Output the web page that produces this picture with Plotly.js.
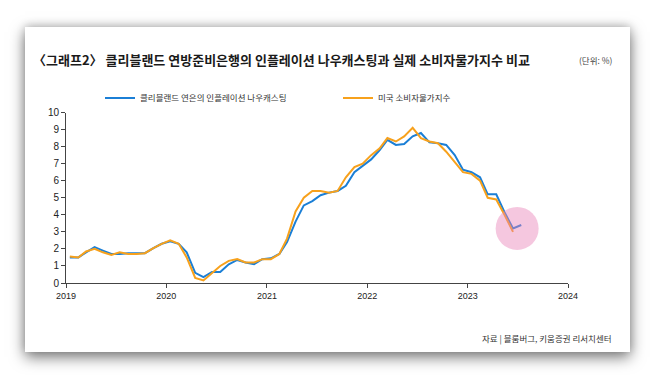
<!DOCTYPE html>
<html>
<head>
<meta charset="utf-8">
<script src="https://cdn.plot.ly/plotly-3.0.1.min.js"></script>
<style>
  html, body { margin:0; padding:0; background:#ffffff; width:650px; height:375px; overflow:hidden; }
  #card { position:absolute; left:25px; top:27px; width:605px; height:325px; background:#ffffff;
          box-shadow: 0 5px 14px rgba(0,0,0,0.55), 0 -2px 8px rgba(0,0,0,0.15); }
  #chart { position:absolute; left:0; top:0; width:650px; height:375px; }
</style>
</head>
<body>
<div id="card"></div>
<div id="chart"></div>
<script>
// ---- data ----
const startYear = 2019;
const seriesNames = ['클리블랜드 연은의 인플레이션 나우캐스팅', '미국 소비자물가지수'];
const nowcast = [
  1.5, 1.5, 1.8, 2.1, 1.9, 1.7, 1.7, 1.75, 1.75, 1.75, 2.05, 2.3,
  2.45, 2.3, 1.8, 0.6, 0.35, 0.65, 0.65, 1.1, 1.35, 1.2, 1.1, 1.4,
  1.45, 1.7, 2.4, 3.6, 4.55, 4.8, 5.15, 5.3, 5.4, 5.7, 6.5, 6.85,
  7.25, 7.8, 8.4, 8.1, 8.15, 8.6, 8.8, 8.25, 8.2, 8.1, 7.5, 6.65,
  6.5, 6.2, 5.2, 5.2, 4.15, 3.2, 3.4
];
const cpi = [
  1.55, 1.5, 1.85, 2.0, 1.8, 1.65, 1.8, 1.7, 1.7, 1.75, 2.05, 2.3,
  2.5, 2.3, 1.5, 0.3, 0.15, 0.6, 1.0, 1.3, 1.4, 1.2, 1.2, 1.4,
  1.4, 1.7, 2.6, 4.2, 5.0, 5.4, 5.4, 5.3, 5.4, 6.2, 6.8, 7.0,
  7.5, 7.9, 8.5, 8.3, 8.6, 9.1, 8.5, 8.3, 8.2, 7.7, 7.1, 6.5,
  6.4, 6.0, 5.0, 4.9, 4.0, 3.0
];
const xTickVals = ['2019-01-01','2020-01-01','2021-01-01','2022-01-01','2023-01-01','2024-01-01'];
const xTickText = ['2019','2020','2021','2022','2023','2024'];
const yTickVals = [0,1,2,3,4,5,6,7,8,9,10];

function monthDates(n) {
  const out = [];
  for (let i = 0; i < n; i++) {
    const y = startYear + Math.floor(i / 12);
    const m = (i % 12) + 1;
    out.push(y + '-' + String(m).padStart(2, '0') + '-15');
  }
  return out;
}
const datesNow = monthDates(nowcast.length);
const datesCpi = monthDates(cpi.length);

// highlight circle centred between the last points of the two series
const lastNow = new Date(datesNow[datesNow.length - 1]).getTime();
const lastCpi = new Date(datesCpi[datesCpi.length - 1]).getTime();
const circX = new Date((lastNow + lastCpi) / 2).toISOString().slice(0, 10);
const circY = (nowcast[nowcast.length - 1] + cpi[cpi.length - 1]) / 2;

const KR = '"Noto Sans CJK KR", "Noto Sans", sans-serif';
const W = 650, H = 375;
const ML = 66, MR = 82, MT = 106, MB = 92;
const pw = W - ML - MR, ph = H - MT - MB;
const px = v => (v - ML) / pw;          // page x -> paper x
const py = v => (H - MB - v) / ph;      // page y -> paper y

const traces = [
  { x: datesNow, y: nowcast, name: seriesNames[0], type: 'scatter', mode: 'lines',
    line: { color: '#1b7fd6', width: 2 } },
  { x: datesCpi, y: cpi, name: seriesNames[1], type: 'scatter', mode: 'lines',
    line: { color: '#f7a11c', width: 2 } }
];

const layout = {
  width: W, height: H,
  paper_bgcolor: 'rgba(0,0,0,0)', plot_bgcolor: 'rgba(0,0,0,0)',
  margin: { l: ML, r: MR, t: MT, b: MB },
  showlegend: true,
  title: {
    text: '〈그래프2〉 클리블랜드 연방준비은행의 인플레이션 나우캐스팅과 실제 소비자물가지수 비교',
    font: { family: KR, size: 13, color: '#1a1a1a', weight: 'bold' },
    xref: 'container', yref: 'container', x: 33 / W, xanchor: 'left',
    y: 1 - 60 / H, yanchor: 'middle'
  },
  legend: {
    orientation: 'h', x: 100 / W, xref: 'container', y: 1 - 98 / H, yref: 'container',
    xanchor: 'left', yanchor: 'middle',
    entrywidth: 193, entrywidthmode: 'pixels',
    font: { family: KR, size: 8.5, color: '#333333' },
    bgcolor: 'rgba(0,0,0,0)'
  },
  xaxis: {
    type: 'date', range: ['2019-01-01', '2024-01-01'],
    tickvals: xTickVals, ticktext: xTickText,
    showgrid: false, zeroline: false,
    showline: true, linecolor: '#444444', linewidth: 1,
    ticks: 'outside', ticklen: 4, tickcolor: '#444444',
    tickfont: { family: 'Liberation Sans, Arial, sans-serif', size: 9, color: '#222222' }
  },
  yaxis: {
    range: [0, 10], tickvals: yTickVals,
    showgrid: false, zeroline: false,
    showline: true, linecolor: '#444444', linewidth: 1,
    ticks: 'outside', ticklen: 4, tickcolor: '#444444',
    tickfont: { family: 'Liberation Sans, Arial, sans-serif', size: 10, color: '#222222' }
  },
  shapes: [{
    type: 'circle', layer: 'above',
    xref: 'x', yref: 'y', xsizemode: 'pixel', ysizemode: 'pixel',
    xanchor: circX, yanchor: circY,
    x0: -21.5, x1: 21.5, y0: -21.5, y1: 21.5,
    fillcolor: 'rgb(232,130,185)', opacity: 0.45, line: { width: 0 }
  }],
  annotations: [
    { text: '(단위: %)', xref: 'paper', yref: 'paper', x: px(615), y: py(51),
      xanchor: 'right', yanchor: 'middle', showarrow: false,
      font: { family: KR, size: 8.5, color: '#444444' } },
    { text: '자료 | 블룸버그, 키움증권 리서치센터', xref: 'paper', yref: 'paper',
      x: px(614), y: py(341), xanchor: 'right', yanchor: 'middle', showarrow: false,
      font: { family: KR, size: 8.5, color: '#333333' } }
  ]
};

Plotly.newPlot('chart', traces, layout, { displayModeBar: false, staticPlot: true });
</script>
</body>
</html>
